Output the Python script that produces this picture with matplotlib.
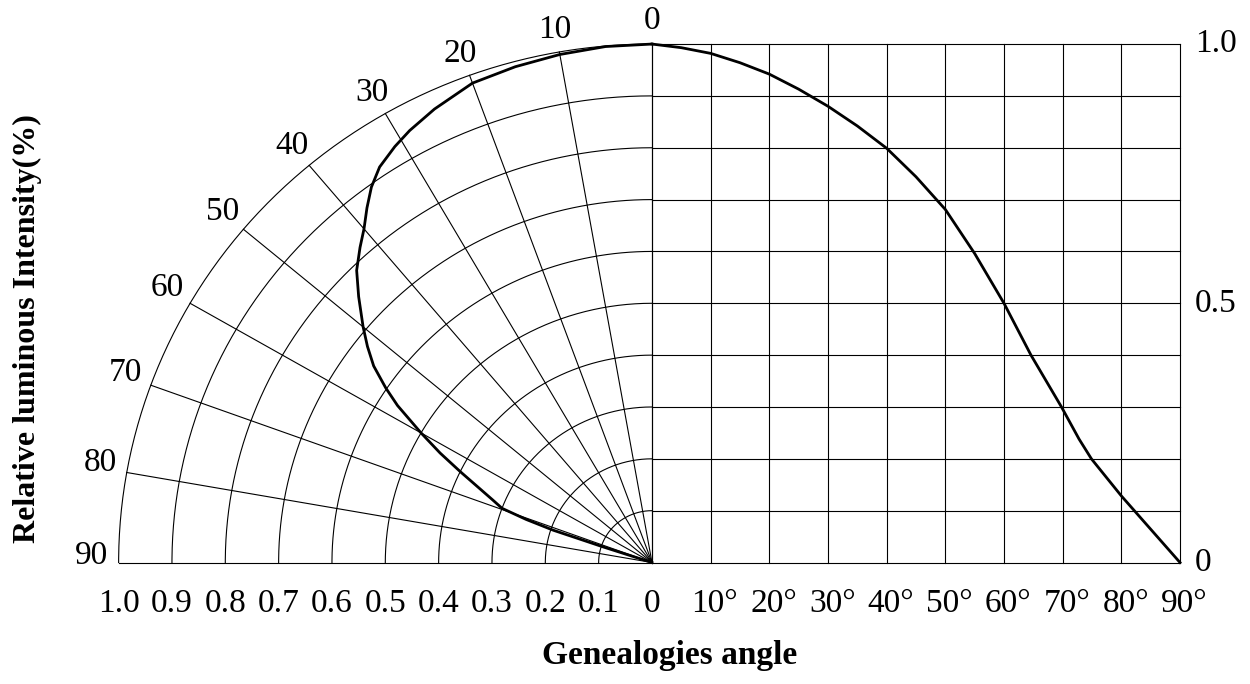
import numpy as np
import matplotlib
matplotlib.use("Agg")
import matplotlib.pyplot as plt

plt.rcParams['font.family'] = ['Liberation Serif', 'DejaVu Serif']

# left half: polar plot, angle measured from the vertical (deg) and relative intensity
polar_angle = [0, 5, 10, 15, 20, 25, 28.6, 31, 33.8, 36, 38, 40, 42, 44.5, 47,
               50, 52, 54, 56, 57.6, 60, 62, 64, 66.4, 68, 69.6, 70.6, 71.4,
               71.8, 72]
polar_r = [1.0, 0.999, 0.995, 0.99, 0.984, 0.965, 0.949, 0.936, 0.918, 0.895,
           0.868, 0.84, 0.818, 0.79, 0.752, 0.707, 0.677, 0.645, 0.602, 0.565,
           0.50, 0.45, 0.40, 0.349, 0.322, 0.30, 0.25, 0.195, 0.096, 0.0]

# right half: same intensity drawn against angle on a square grid
rect_angle = [0, 5, 10, 15, 20, 25, 30, 35, 40, 45, 50, 55, 60, 64.6, 69.8,
              72.8, 74.9, 80, 90]
rect_intensity = [1.0, 0.993, 0.982, 0.964, 0.942, 0.913, 0.880, 0.842, 0.799,
                  0.744, 0.681, 0.596, 0.5, 0.40, 0.30, 0.238, 0.20, 0.1285, 0.0]

spoke_angles = [0, 10, 20, 30, 40, 50, 60, 70, 80, 90]
ring_values = [1.0, 0.9, 0.8, 0.7, 0.6, 0.5, 0.4, 0.3, 0.2, 0.1, 0]
ring_labels = ['1.0', '0.9', '0.8', '0.7', '0.6', '0.5', '0.4', '0.3', '0.2', '0.1', '0']
grid_angles = [10, 20, 30, 40, 50, 60, 70, 80, 90]
grid_labels = ['10°', '20°', '30°', '40°', '50°', '60°', '70°', '80°', '90°']
right_ticks = [1.0, 0.5, 0]
right_labels = ['1.0', '0.5', '0']

GRID_W = 0.99   # width of the right grid in data units (90 deg)
FS = 24

fig = plt.figure(figsize=(12.5, 6.84), dpi=100)
ax = fig.add_axes([0.0949, 0.1776, 0.8491, 0.758])
ax.set_xlim(-1, GRID_W)
ax.set_ylim(0, 1)
ax.axis('off')

grid_kw = dict(color='black', lw=0.8, clip_on=False)

# polar grid: rings and spokes
t = np.radians(np.linspace(0, 90, 200))
for r in np.arange(1, 11) / 10:
    ax.plot(-r * np.sin(t), r * np.cos(t), **grid_kw)
for a in spoke_angles:
    ar = np.radians(a)
    ax.plot([0, -np.sin(ar)], [0, np.cos(ar)], **grid_kw)
    ax.text(-1.05 * np.sin(ar), 1.03 * np.cos(ar) + 0.014, str(a),
            ha='center', va='center', fontsize=FS)

# square grid on the right
for k in range(10):
    x = k / 9 * GRID_W
    ax.plot([x, x], [0, 1], **grid_kw)
for k in range(11):
    ax.plot([0, GRID_W], [k / 10, k / 10], **grid_kw)

# curves
pa = np.radians(polar_angle)
pr = np.array(polar_r)
ax.plot(-pr * np.sin(pa), pr * np.cos(pa), color='black', lw=2, clip_on=False)
ax.plot(np.array(rect_angle) / 90 * GRID_W, rect_intensity, color='black', lw=2,
        clip_on=False)

# tick labels
for v, lab in zip(ring_values, ring_labels):
    ax.text(-v, -0.08, lab, ha='center', va='center', fontsize=FS)
for a, lab in zip(grid_angles, grid_labels):
    ax.text(a / 90 * GRID_W + 0.008, -0.08, lab, ha='center', va='center', fontsize=FS)
for v, lab in zip(right_ticks, right_labels):
    ax.text(GRID_W + 0.028, v, lab, ha='left', va='center', fontsize=FS)

fig.text(0.022, 0.519, 'Relative luminous Intensity(%)', rotation=90,
         ha='center', va='center', fontsize=23, fontweight='bold')
fig.text(0.536, 0.042, 'Genealogies angle', ha='center', va='center',
         fontsize=24, fontweight='bold')

fig.savefig('out.png', dpi=100)
